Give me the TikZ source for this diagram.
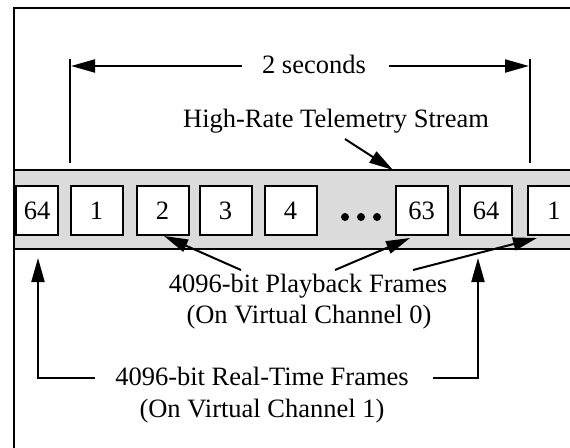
\documentclass[tikz,border=0pt]{standalone}
\usepackage{fontspec}
\setmainfont{Liberation Serif}
\usetikzlibrary{arrows.meta}
\begin{document}
\begin{tikzpicture}[x=1pt,y=-1pt,
  lbl/.style={font=\fontsize{26.5}{31}\selectfont, inner sep=0pt, anchor=base},
  frm/.style={draw, line width=2pt, fill=white, minimum height=49pt, minimum width=52pt, inner sep=0pt, font=\fontsize{26.5}{31}\selectfont},
  arr/.style={line width=2pt, -{Triangle[length=24pt,width=13pt]}},
  ln/.style={line width=2pt},
  ]
\useasboundingbox (0,0) rectangle (570,447);
\clip (0,0) rectangle (570,447);
\fill[white] (0,0) rectangle (570,447);
% telemetry band
\fill[black!14] (14,170) rectangle (590,249);
\draw[ln] (14,170) -- (590,170) (14,249) -- (590,249);
% outer frame (left and top edges visible)
\draw[ln] (14,470) -- (14,8) -- (590,8);
% frames
\node[frm, minimum width=42pt] (f64a) at (37,210.5) {64};
\node[frm] (f1a) at (96.5,210.5) {1};
\node[frm] (f2) at (162.5,210.5) {2};
\node[frm] (f3) at (225.5,210.5) {3};
\node[frm] (f4) at (290.5,210.5) {4};
\node[frm] (f63) at (421.5,210.5) {63};
\node[frm] (f64b) at (486,210.5) {64};
\node[frm] (f1b) at (554,210.5) {1};
% ellipsis
\foreach \x in {345,361,377} \fill (\x,217) circle (4pt);
% 2 seconds dimension
\coordinate (tL1) at (70,59); \coordinate (tL2) at (70,163);
\coordinate (tR1) at (530,59); \coordinate (tR2) at (530,163);
\draw[ln] (tL1) -- (tL2);
\draw[ln] (tR1) -- (tR2);
\node[lbl] (sec) at (314,73) {2 seconds};
\coordinate (sL) at (242,66); \coordinate (sLe) at (71,66);
\coordinate (sR) at (389,66); \coordinate (sRe) at (529,66);
\draw[arr] (sL) -- (sLe);
\draw[arr] (sR) -- (sRe);
% stream label
\node[lbl] (hr) at (336,127) {High-Rate Telemetry Stream};
\coordinate (hrs) at (345,139); \coordinate (hre) at (393,170);
\draw[arr] (hrs) -- (hre);
% playback
\node[lbl] (pb1) at (308,292) {4096-bit Playback Frames};
\node[lbl] (pb2) at (309,323) {(On Virtual Channel 0)};
\coordinate (p1s) at (241,270); \coordinate (p1e) at (164,236);
\coordinate (p2s) at (335,270); \coordinate (p2e) at (410,238);
\coordinate (p3s) at (413,270); \coordinate (p3e) at (537,238);
\draw[arr] (p1s) -- (p1e);
\draw[arr] (p2s) -- (p2e);
\draw[arr] (p3s) -- (p3e);
% real-time
\node[lbl] (rt1) at (262,385) {4096-bit Real-Time Frames};
\node[lbl] (rt2) at (262,417) {(On Virtual Channel 1)};
\coordinate (r1s) at (95,378); \coordinate (r1c) at (38,378); \coordinate (r1e) at (38,258);
\coordinate (r2s) at (433,378); \coordinate (r2c) at (478,378); \coordinate (r2e) at (478,258);
\draw[arr] (r1s) -- (r1c) -- (r1e);
\draw[arr] (r2s) -- (r2c) -- (r2e);
\end{tikzpicture}
\end{document}
